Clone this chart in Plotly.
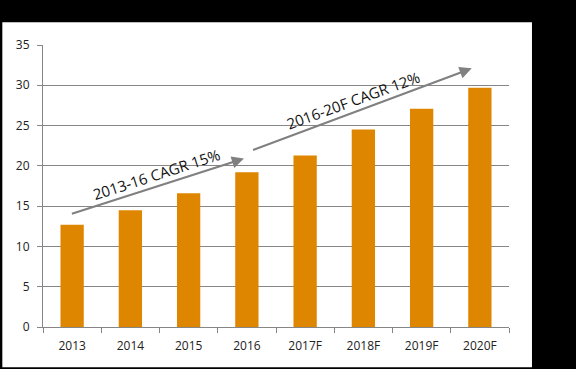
import plotly.graph_objects as go

years = ["2013", "2014", "2015", "2016", "2017F", "2018F", "2019F", "2020F"]
values = [12.7, 14.5, 16.6, 19.2, 21.3, 24.5, 27.1, 29.7]
y_ticks = [0, 5, 10, 15, 20, 25, 30, 35]

# CAGR arrows: (tail_x, tail_y, head_x, head_y) in category-index / value units
arrow_tails_x = [-0.03, 3.08]
arrow_tails_y = [14.0, 21.9]
arrow_heads_x = [2.95, 6.86]
arrow_heads_y = [20.9, 32.1]
cagr_labels = ["2013-16 CAGR 15%", "2016-20F CAGR 12%"]
label_x = [1.455, 4.83]
label_y = [19.0, 28.15]
label_angle = [-18, -20]

BAR = "#DF8600"
GRID = "#868686"
FONT = "Open Sans, Liberation Sans, sans-serif"

fig = go.Figure()
fig.add_trace(go.Bar(x=years, y=values, marker=dict(color=BAR, line=dict(width=0)),
                     hoverinfo="skip"))

annotations = []
for tx, ty, hx, hy in zip(arrow_tails_x, arrow_tails_y, arrow_heads_x, arrow_heads_y):
    annotations.append(dict(x=hx, y=hy, ax=tx, ay=ty, xref="x", yref="y",
                            axref="x", ayref="y", text="", showarrow=True,
                            arrowhead=2, arrowsize=1.1, arrowwidth=2.2,
                            arrowcolor="#808080"))
for t, lx, ly, ang in zip(cagr_labels, label_x, label_y, label_angle):
    annotations.append(dict(x=lx, y=ly, xref="x", yref="y", text=t,
                            showarrow=False, textangle=ang,
                            font=dict(family=FONT, size=15, color="#111111")))

fig.update_layout(
    width=576, height=369,
    margin=dict(l=43, r=67, t=45, b=42),
    paper_bgcolor="black",
    plot_bgcolor="white",
    bargap=0.6,
    showlegend=False,
    font=dict(family=FONT, size=12, color="#222222"),
    shapes=[dict(type="rect", xref="paper", yref="paper",
                 x0=-0.0873, x1=1.0493, y0=-0.1429, y1=1.0805,
                 fillcolor="white", line=dict(width=0), layer="below")],
    annotations=annotations,
)
fig.update_xaxes(type="category", showgrid=False, showline=True, linecolor=GRID,
                 linewidth=1, ticks="outside", ticklen=5, tickcolor=GRID,
                 tickson="boundaries", ticklabelstandoff=8,
                 tickfont=dict(size=12, color="#222222"))
fig.update_yaxes(range=[0, 35], tickvals=y_ticks, showgrid=True, gridcolor=GRID,
                 gridwidth=1, showline=True, linecolor=GRID, linewidth=1,
                 ticks="outside", ticklen=5, tickcolor=GRID, zeroline=False,
                 ticklabelstandoff=5, tickfont=dict(size=12, color="#222222"))

fig.write_html("out.html", config={"displayModeBar": False},
               post_script="document.body.style.margin='0';document.body.style.background='black';document.body.style.overflow='hidden';")
